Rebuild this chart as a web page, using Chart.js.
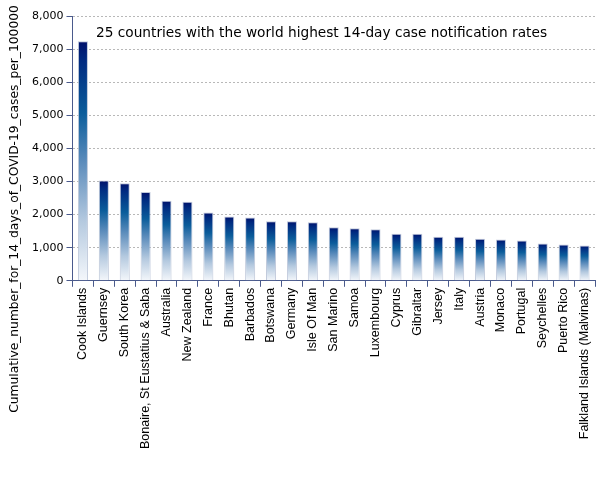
<!DOCTYPE html>
<html>
<head>
<meta charset="utf-8">
<script src="https://cdn.jsdelivr.net/npm/chart.js@4"></script>
<style>
  html, body { margin: 0; padding: 0; background: #fff; }
  #wrap { width: 605px; height: 480px; }
</style>
</head>
<body>
<div id="wrap"><canvas id="myChart" width="605" height="480"></canvas></div>
<script>
var countries = ['Cook Islands', 'Guernsey', 'South Korea', 'Bonaire, St Eustatius & Saba', 'Australia',
    'New Zealand', 'France', 'Bhutan', 'Barbados', 'Botswana', 'Germany', 'Isle Of Man', 'San Marino',
    'Samoa', 'Luxembourg', 'Cyprus', 'Gibraltar', 'Jersey', 'Italy', 'Austria', 'Monaco', 'Portugal',
    'Seychelles', 'Puerto Rico', 'Falkland Islands (Malvinas)'];
var rates = [7240, 3030, 2950, 2680, 2420, 2390, 2060, 1940, 1910, 1800, 1800, 1770, 1620,
    1590, 1560, 1420, 1420, 1330, 1330, 1270, 1250, 1220, 1130, 1100, 1070];
var yTicks = [0, 1000, 2000, 3000, 4000, 5000, 6000, 7000, 8000];

var titleText = '25 countries with the world highest 14-day case notification rates';
var yTitle = 'Cumulative_number_for_14_days_of_COVID-19_cases_per_100000';

function barGradient(context) {
    var chart = context.chart;
    var y = chart.scales.y;
    if (!y || context.raw == null) return '#1a5c9c';
    var top = y.getPixelForValue(context.raw);
    var bottom = y.getPixelForValue(0);
    if (!isFinite(top) || !isFinite(bottom) || top === bottom) return '#1a5c9c';
    var g = chart.ctx.createLinearGradient(0, top, 0, bottom);
    g.addColorStop(0, '#00106a');
    g.addColorStop(0.08, '#002a80');
    g.addColorStop(0.3, '#0b5d9b');
    g.addColorStop(0.5, '#5a8bbb');
    g.addColorStop(0.75, '#b4c9df');
    g.addColorStop(1, '#f4f7fb');
    return g;
}

// chart title sits inside the plot, and the y title runs past the plot height
var extraText = {
    id: 'extraText',
    afterDraw: function (chart) {
        var ctx = chart.ctx;
        ctx.save();
        ctx.fillStyle = '#000';
        ctx.textBaseline = 'middle';
        ctx.textAlign = 'left';
        ctx.font = '13.7px "DejaVu Sans"';
        ctx.fillText(titleText, 96, 33);

        // y title spans roughly y=5..413 in the original
        ctx.font = '12px "DejaVu Sans"';
        var w = ctx.measureText(yTitle).width;
        var size = 12 * 408 / w;
        ctx.font = size.toFixed(2) + 'px "DejaVu Sans"';
        ctx.translate(15, 209);
        ctx.rotate(-Math.PI / 2);
        ctx.textAlign = 'center';
        ctx.fillText(yTitle, 0, 0);
        ctx.restore();
    }
};

function onSight() {
    var ctx = document.getElementById('myChart').getContext('2d');

    var myChart = new Chart(ctx, {
        type: 'bar',
        data: {
            labels: countries,
            datasets: [{
                data: rates,
                backgroundColor: barGradient,
                borderColor: 'rgba(185,195,215,0.9)',
                borderWidth: 1,
                categoryPercentage: 1,
                barPercentage: 0.48
            }]
        },
        options: {
            responsive: false,
            animation: false,
            layout: {
                padding: { top: 16, right: 10, bottom: 30, left: 29 }
            },
            plugins: {
                legend: { display: false },
                tooltip: { enabled: false }
            },
            scales: {
                x: {
                    offset: true,
                    grid: {
                        offset: true,
                        drawOnChartArea: false,
                        drawTicks: true,
                        tickLength: 6,
                        color: '#4a5a8c'
                    },
                    border: { color: '#4a5a8c', width: 1 },
                    ticks: {
                        autoSkip: false,
                        maxRotation: 90,
                        minRotation: 90,
                        padding: 1,
                        color: '#000',
                        font: { family: '"Liberation Sans", Arial', size: 12.5 }
                    }
                },
                y: {
                    min: 0,
                    max: 8000,
                    afterBuildTicks: function (axis) {
                        axis.ticks = yTicks.map(function (v) { return { value: v }; });
                    },
                    grid: {
                        color: function (c) { return c.tick && c.tick.value === 0 ? 'rgba(0,0,0,0)' : '#b8b8b8'; },
                        tickColor: '#4a5a8c',
                        tickLength: 6,
                        lineWidth: 1
                    },
                    border: { color: '#4a5a8c', width: 1, dash: [2, 2] },
                    ticks: {
                        padding: 3,
                        color: '#000',
                        font: { family: '"DejaVu Sans"', size: 11 },
                        callback: function (v) { return v.toLocaleString('en-US'); }
                    }
                }
            }
        },
        plugins: [extraText]
    });
}

document.addEventListener('DOMContentLoaded', onSight);
</script>
</body>
</html>
